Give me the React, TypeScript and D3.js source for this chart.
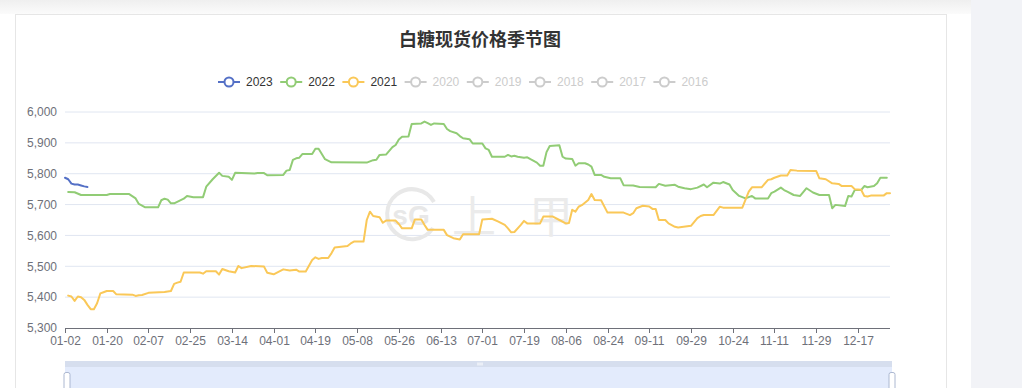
import React from 'react';
import * as d3 from 'd3';

// trading-day categories on the x axis, one label every 13 days
const categoryCount = 258;
const labelInterval = 13;
const tickLabels = [
  '01-02', '01-20', '02-07', '02-25', '03-14', '04-01', '04-19', '05-08', '05-26', '06-13',
  '07-01', '07-19', '08-06', '08-24', '09-11', '09-29', '10-24', '11-11', '11-29', '12-17',
];

const legendYears = ['2023', '2022', '2021', '2020', '2019', '2018', '2017', '2016'];
const activeYears = ['2023', '2022', '2021'];

// [day index, price]
const series2023: [number, number][] = [
  [0, 5787], [1, 5782], [2, 5768], [3, 5765], [4, 5765], [5, 5762], [6, 5759], [7, 5757],
];

const series2022: [number, number][] = [
  [1, 5741], [3, 5740], [5, 5731], [13, 5731], [14, 5734], [20, 5734], [22, 5720], [23, 5702],
  [25, 5691], [29, 5691], [30, 5714], [31, 5719], [32, 5716], [33, 5704], [34, 5704], [37, 5719],
  [38, 5728], [40, 5724], [43, 5724], [44, 5758], [46, 5782], [48, 5803], [49, 5793], [51, 5790],
  [52, 5780], [53, 5803], [59, 5801], [60, 5802], [62, 5802], [63, 5795], [68, 5796], [69, 5810],
  [70, 5812], [71, 5845], [72, 5850], [73, 5852], [74, 5864], [77, 5864], [78, 5881], [79, 5881],
  [81, 5847], [83, 5837], [94, 5836], [96, 5844], [97, 5845], [98, 5861], [100, 5862], [102, 5886],
  [103, 5893], [104, 5911], [105, 5920], [107, 5921], [108, 5961], [111, 5963], [112, 5969], [113, 5964],
  [114, 5958], [115, 5963], [118, 5961], [119, 5945], [120, 5938], [122, 5931], [123, 5922], [124, 5915],
  [126, 5912], [127, 5898], [130, 5898], [131, 5882], [132, 5877], [133, 5855], [137, 5855], [138, 5861],
  [139, 5856], [140, 5858], [141, 5855], [143, 5852], [144, 5853], [145, 5847], [147, 5836], [148, 5826],
  [149, 5826], [150, 5870], [151, 5890], [154, 5892], [155, 5855], [156, 5849], [158, 5848], [159, 5826],
  [160, 5834], [162, 5834], [163, 5830], [164, 5823], [165, 5796], [167, 5796], [168, 5790], [170, 5785],
  [173, 5785], [174, 5763], [177, 5762], [179, 5757], [184, 5756], [185, 5767], [187, 5761], [190, 5764],
  [191, 5758], [193, 5753], [195, 5750], [197, 5755], [199, 5765], [200, 5756], [202, 5771], [204, 5768],
  [205, 5773], [207, 5765], [208, 5747], [210, 5728], [212, 5720], [214, 5728], [215, 5720], [219, 5720],
  [220, 5737], [221, 5742], [223, 5755], [224, 5747], [225, 5742], [227, 5731], [229, 5728], [231, 5753],
  [233, 5739], [235, 5731], [238, 5731], [239, 5688], [240, 5699], [243, 5695], [244, 5728], [245, 5726],
  [246, 5747], [248, 5747], [249, 5760], [250, 5756], [252, 5760], [253, 5769], [254, 5787], [256, 5787],
];

const series2021: [number, number][] = [
  [1, 5405], [2, 5402], [3, 5388], [4, 5402], [5, 5400], [6, 5391], [7, 5375], [8, 5361],
  [9, 5361], [10, 5380], [11, 5412], [12, 5416], [13, 5420], [15, 5420], [16, 5409], [21, 5408],
  [22, 5404], [23, 5406], [24, 5407], [26, 5414], [31, 5417], [33, 5420], [34, 5443], [35, 5447],
  [36, 5450], [37, 5480], [42, 5480], [43, 5476], [44, 5484], [47, 5484], [48, 5473], [49, 5491],
  [51, 5484], [53, 5480], [54, 5501], [55, 5494], [58, 5501], [62, 5499], [63, 5479], [65, 5474],
  [68, 5490], [70, 5486], [72, 5489], [73, 5483], [75, 5483], [77, 5520], [78, 5529], [79, 5524],
  [80, 5527], [82, 5527], [83, 5542], [84, 5561], [88, 5566], [89, 5574], [90, 5580], [93, 5580],
  [94, 5650], [95, 5677], [96, 5663], [98, 5659], [99, 5641], [100, 5648], [103, 5648], [104, 5637],
  [105, 5623], [108, 5623], [109, 5652], [111, 5652], [112, 5634], [113, 5618], [118, 5618], [119, 5601],
  [121, 5591], [123, 5587], [124, 5604], [129, 5604], [130, 5652], [133, 5654], [135, 5645], [137, 5634],
  [138, 5623], [139, 5610], [140, 5611], [142, 5634], [143, 5647], [144, 5639], [148, 5639], [149, 5661],
  [152, 5661], [154, 5650], [156, 5639], [157, 5640], [158, 5683], [159, 5677], [160, 5693], [161, 5698],
  [163, 5715], [164, 5734], [165, 5715], [167, 5714], [169, 5674], [174, 5674], [176, 5666], [177, 5672],
  [178, 5688], [180, 5696], [182, 5694], [183, 5686], [184, 5686], [185, 5650], [187, 5650], [188, 5639],
  [190, 5628], [191, 5626], [195, 5631], [197, 5656], [198, 5663], [199, 5666], [202, 5666], [204, 5693],
  [205, 5690], [211, 5690], [213, 5742], [214, 5756], [217, 5756], [219, 5780], [220, 5782], [221, 5787],
  [223, 5794], [225, 5794], [226, 5812], [228, 5810], [234, 5809], [235, 5785], [237, 5782], [239, 5769],
  [241, 5767], [242, 5760], [245, 5760], [246, 5750], [248, 5748], [249, 5728], [250, 5726], [251, 5729],
  [255, 5729], [256, 5737], [257, 5737],
];

const yDomain: [number, number] = [5300, 6000];

const colors: Record<string, string> = {
  '2023': '#5470c6',
  '2022': '#91cc75',
  '2021': '#fac858',
};

const W = 1022;
const H = 388;
const margin = { left: 65, right: 890, top: 112, bottom: 328 };
const font = '"Liberation Sans", Arial, "Noto Sans CJK SC", sans-serif';

export default function App() {
  const x = d3.scaleLinear().domain([0, categoryCount - 1]).range([margin.left, margin.right]);
  const y = d3.scaleLinear().domain(yDomain).range([margin.bottom, margin.top]);
  const yTicks = y.ticks(7);
  const fmt = d3.format(',');
  const line = d3
    .line<[number, number]>()
    .x((d) => x(d[0]))
    .y((d) => y(d[1]));

  const drawn: [string, [number, number][]][] = [
    ['2022', series2022],
    ['2021', series2021],
    ['2023', series2023],
  ];

  const legendStart = 218;
  const legendStep = 62.2;
  const legendY = 82;

  return (
    <svg
      width={W}
      height={H}
      style={{ position: 'absolute', left: 0, top: 0, display: 'block', fontFamily: font }}
    >
      <defs>
        <linearGradient id="topShade" x1="0" y1="0" x2="0" y2="1">
          <stop offset="0" stopColor="#efefef" />
          <stop offset="1" stopColor="#fbfbfb" />
        </linearGradient>
      </defs>
      <rect x={0} y={0} width={W} height={H} fill="#ffffff" />
      <rect x={0} y={0} width={W} height={14} fill="url(#topShade)" />
      <rect x={971} y={0} width={51} height={H} fill="#f2f3f7" />
      <rect x={15.5} y={14.5} width={931} height={H} fill="#ffffff" stroke="#e6e6e6" />

      {/* title */}
      <text
        x={480}
        y={46}
        textAnchor="middle"
        fontSize={18}
        fontWeight="bold"
        fill="#333"
        fontFamily='"Noto Sans CJK SC", sans-serif'
      >
        白糖现货价格季节图
      </text>

      {/* legend */}
      {legendYears.map((yr, i) => {
        const active = activeYears.includes(yr);
        const c = active ? colors[yr] : '#ccc';
        const lx = legendStart + i * legendStep;
        return (
          <g key={yr}>
            <line x1={lx} x2={lx + 22} y1={legendY} y2={legendY} stroke={c} strokeWidth={2} />
            <circle cx={lx + 11} cy={legendY} r={4.5} fill="#fff" stroke={c} strokeWidth={2} />
            <text x={lx + 28} y={legendY + 4.3} fontSize={12} fill={active ? '#333' : '#ccc'}>
              {yr}
            </text>
          </g>
        );
      })}

      {/* grid */}
      {yTicks.map((t) => (
        <g key={t}>
          {t !== yDomain[0] && (
            <line x1={margin.left} x2={margin.right} y1={y(t)} y2={y(t)} stroke="#e0e6f1" />
          )}
          <text x={57} y={y(t) + 4.3} textAnchor="end" fontSize={12} fill="#6e7079">
            {fmt(t)}
          </text>
        </g>
      ))}

      {/* watermark */}
      <g fill="none" stroke="#e8e8e8" strokeWidth={4}>
        <path d="M 434 202 A 25 25 0 1 0 433 228" />
      </g>
      <text x={411} y={225} textAnchor="middle" fontSize={28} fill="#e8e8e8" fontWeight="bold">
        sG
      </text>
      <text x={474} y={233} textAnchor="middle" fontSize={44} fill="#ebebeb" fontFamily='"Noto Sans CJK SC", sans-serif'>
        上
      </text>
      <text x={551} y={233} textAnchor="middle" fontSize={44} fill="#ebebeb" fontFamily='"Noto Sans CJK SC", sans-serif'>
        甲
      </text>

      {/* x axis */}
      <line x1={margin.left} x2={margin.right} y1={margin.bottom + 0.5} y2={margin.bottom + 0.5} stroke="#6e7079" />
      {tickLabels.map((lbl, i) => {
        const tx = Math.round(x(i * labelInterval)) + 0.5;
        return (
          <g key={lbl}>
            <line x1={tx} x2={tx} y1={margin.bottom} y2={margin.bottom + 5} stroke="#6e7079" />
            <text x={tx} y={margin.bottom + 17} textAnchor="middle" fontSize={12} fill="#6e7079">
              {lbl}
            </text>
          </g>
        );
      })}

      {/* series */}
      {drawn.map(([yr, data]) => (
        <path
          key={yr}
          d={line(data) || ''}
          fill="none"
          stroke={colors[yr]}
          strokeWidth={2}
          strokeLinejoin="round"
          strokeLinecap="round"
        />
      ))}

      {/* data zoom slider */}
      <rect x={65} y={361} width={827} height={40} fill="#e3ebfc" />
      <rect x={65} y={361} width={827} height={6} fill="#d6deee" />
      {[-2, 0, 2].map((d) => (
        <line key={d} x1={480 + d} x2={480 + d} y1={362.5} y2={365.5} stroke="#fff" />
      ))}
      <rect x={64} y={372.5} width={6} height={30} rx={2} fill="#fff" stroke="#acb8d1" />
      <rect x={889} y={372.5} width={6} height={30} rx={2} fill="#fff" stroke="#acb8d1" />
    </svg>
  );
}
